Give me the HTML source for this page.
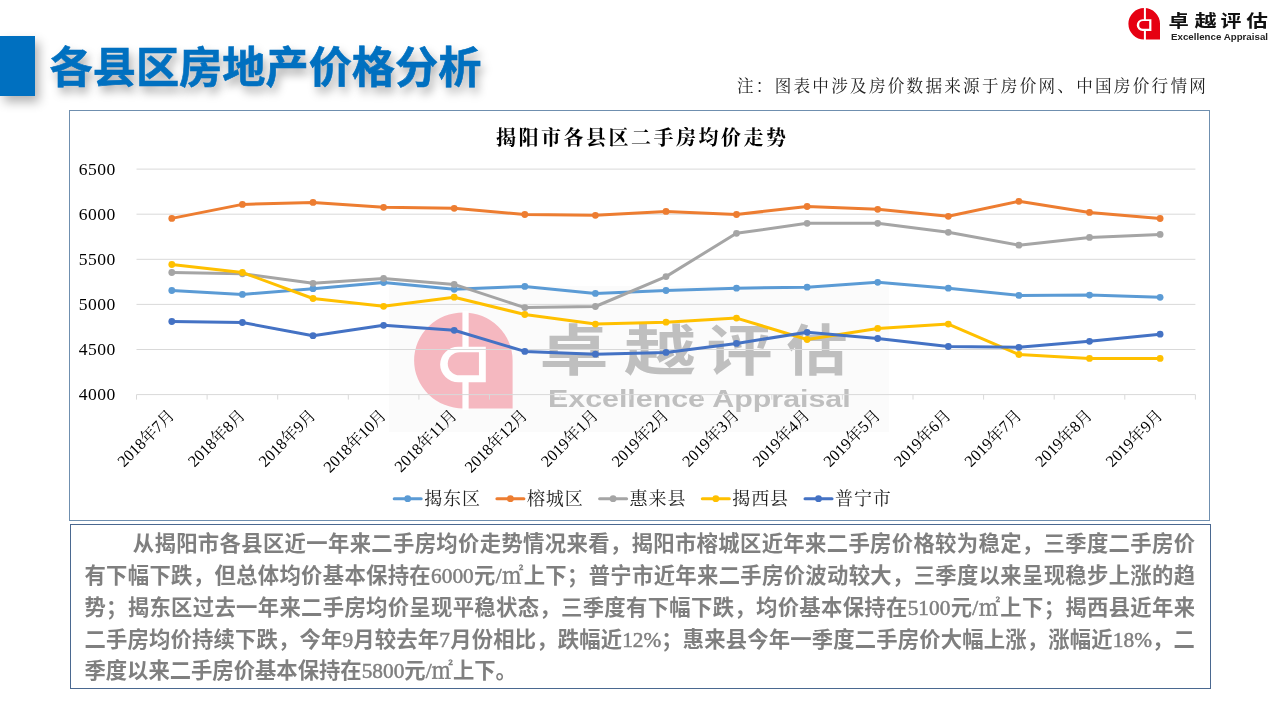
<!DOCTYPE html>
<html lang="zh-CN"><head><meta charset="utf-8">
<title>各县区房地产价格分析</title>
<style>
*{margin:0;padding:0;box-sizing:border-box}
html,body{width:1280px;height:720px;overflow:hidden;background:#fff}
body{position:relative;font-family:"Liberation Sans","Noto Sans CJK SC",sans-serif}
.bar{position:absolute;left:0;top:36px;width:35px;height:60px;background:#0070C0;box-shadow:4px 6px 10px rgba(0,0,0,.3)}
.title{position:absolute;left:49.5px;top:38px;font-family:"Liberation Sans","Noto Sans CJK SC",sans-serif;font-weight:700;font-size:43.2px;line-height:60px;color:#0070C0;text-shadow:3px 6px 10px rgba(0,0,0,.36);-webkit-text-stroke:0.6px #0070C0;white-space:nowrap;letter-spacing:0px}
.note{position:absolute;left:737px;top:75.5px;font-family:"Liberation Serif","Noto Serif CJK SC",serif;font-size:16.6px;line-height:22px;color:#222;letter-spacing:2.25px;white-space:nowrap}
.chartbox{position:absolute;left:69px;top:110px;width:1140.8px;height:411px;border:1px solid #6F8FAF;background:#fff}
.textbox{position:absolute;left:70px;top:524px;width:1141px;height:165px;border:1.6px solid #4A6890;background:#fff}
.para{position:absolute;left:84.4px;top:525.9px;width:1110.6px;font-family:"Noto Sans CJK SC",sans-serif;font-weight:700;font-size:21.33px;line-height:31.9px;color:#7F7F7F}
.para .ln{display:block;white-space:nowrap;text-align:justify;text-align-last:justify;height:31.9px}
.para .ln.first{padding-left:48.4px}
.para .ln.last{text-align-last:left}
.para .n{font-family:"Liberation Serif",serif;font-weight:400;line-height:0;-webkit-text-stroke:0.5px #7F7F7F}
.para .m{font-family:"Noto Serif CJK SC",serif;font-weight:400;line-height:0;-webkit-text-stroke:0.5px #7F7F7F}
svg.ov{position:absolute;left:0;top:0;width:1280px;height:720px;overflow:visible}
.yl{font-family:"Liberation Serif",serif;font-size:17.6px;fill:#000;text-anchor:end}
.xl{font-family:"Liberation Serif","Noto Serif CJK SC",serif;font-size:16.2px;fill:#000;text-anchor:end}
.lg{font-family:"Liberation Serif","Noto Serif CJK SC",serif;font-size:18px;fill:#222;letter-spacing:0.9px}
.ct{font-family:"Liberation Serif","Noto Serif CJK SC",serif;font-weight:700;font-size:20px;fill:#000}
.lgz{font-family:"Noto Sans CJK SC",sans-serif;font-weight:700}
.wmz{font-family:"Noto Sans CJK SC",sans-serif;font-weight:700}
.wme{font-family:"Liberation Sans",sans-serif;font-weight:700;font-size:23px}
.lge{font-family:"Liberation Sans",sans-serif;font-weight:700;font-size:8.4px}
</style></head>
<body>
<div class="bar"></div>
<div class="title">各县区房地产价格分析</div>
<div class="note">注：图表中涉及房价数据来源于房价网、中国房价行情网</div>
<div class="chartbox"></div>
<div class="textbox"></div>
<svg class="ov" width="1280" height="720" viewBox="0 0 1280 720">
<text x="495.9" y="144.5" class="ct" textLength="290" lengthAdjust="spacing">揭阳市各县区二手房均价走势</text>
<rect x="389" y="286" width="500" height="146" fill="#FBFBFB"/><g transform="translate(414.1,312.4) scale(3.117,3.04)"><path d="M15.8,0 A15.8,15.8 0 0 0 0,15.8 A15.8,15.8 0 0 0 15.8,31.6 L31.6,31.6 L31.6,15.8 A15.8,15.8 0 0 0 15.8,0Z" fill="#F5B8C0"/><rect x="15.5" y="-0.5" width="2" height="32.6" fill="#FFFFFF"/><path d="M14.2,11.3 H23 V23 H14.2 A5.85,5.85 0 0 1 14.2,11.3Z" fill="#FFFFFF"/><path d="M14.6,13.1 H20.8 V20.7 H14.6 A3.8,3.8 0 0 1 14.6,13.1Z" fill="#F5B8C0"/></g><text x="539.5" y="369.5" class="wmz" style="font-size:55px" fill="#BFBFBF" textLength="69" lengthAdjust="spacingAndGlyphs">卓</text><text x="624" y="369.5" class="wmz" style="font-size:55px" fill="#BFBFBF" textLength="72" lengthAdjust="spacingAndGlyphs">越</text><text x="706.5" y="369.5" class="wmz" style="font-size:55px" fill="#BFBFBF" textLength="66" lengthAdjust="spacingAndGlyphs">评</text><text x="786.5" y="369.5" class="wmz" style="font-size:55px" fill="#BFBFBF" textLength="61" lengthAdjust="spacingAndGlyphs">估</text><text x="548" y="406.8" class="wme" fill="#BFBFBF" textLength="302.7" lengthAdjust="spacingAndGlyphs">Excellence Appraisal</text>
<line x1="136.5" y1="169.1" x2="1195.4" y2="169.1" stroke="#D9D9D9" stroke-width="1"/>
<line x1="136.5" y1="214.2" x2="1195.4" y2="214.2" stroke="#D9D9D9" stroke-width="1"/>
<line x1="136.5" y1="259.3" x2="1195.4" y2="259.3" stroke="#D9D9D9" stroke-width="1"/>
<line x1="136.5" y1="304.4" x2="1195.4" y2="304.4" stroke="#D9D9D9" stroke-width="1"/>
<line x1="136.5" y1="349.5" x2="1195.4" y2="349.5" stroke="#D9D9D9" stroke-width="1"/>
<line x1="136.5" y1="394.6" x2="1195.4" y2="394.6" stroke="#D9D9D9" stroke-width="1"/>
<line x1="136.5" y1="394.6" x2="136.5" y2="399.6" stroke="#D9D9D9" stroke-width="1"/>
<line x1="207.1" y1="394.6" x2="207.1" y2="399.6" stroke="#D9D9D9" stroke-width="1"/>
<line x1="277.7" y1="394.6" x2="277.7" y2="399.6" stroke="#D9D9D9" stroke-width="1"/>
<line x1="348.3" y1="394.6" x2="348.3" y2="399.6" stroke="#D9D9D9" stroke-width="1"/>
<line x1="418.9" y1="394.6" x2="418.9" y2="399.6" stroke="#D9D9D9" stroke-width="1"/>
<line x1="489.5" y1="394.6" x2="489.5" y2="399.6" stroke="#D9D9D9" stroke-width="1"/>
<line x1="560.1" y1="394.6" x2="560.1" y2="399.6" stroke="#D9D9D9" stroke-width="1"/>
<line x1="630.7" y1="394.6" x2="630.7" y2="399.6" stroke="#D9D9D9" stroke-width="1"/>
<line x1="701.2" y1="394.6" x2="701.2" y2="399.6" stroke="#D9D9D9" stroke-width="1"/>
<line x1="771.8" y1="394.6" x2="771.8" y2="399.6" stroke="#D9D9D9" stroke-width="1"/>
<line x1="842.4" y1="394.6" x2="842.4" y2="399.6" stroke="#D9D9D9" stroke-width="1"/>
<line x1="913.0" y1="394.6" x2="913.0" y2="399.6" stroke="#D9D9D9" stroke-width="1"/>
<line x1="983.6" y1="394.6" x2="983.6" y2="399.6" stroke="#D9D9D9" stroke-width="1"/>
<line x1="1054.2" y1="394.6" x2="1054.2" y2="399.6" stroke="#D9D9D9" stroke-width="1"/>
<line x1="1124.8" y1="394.6" x2="1124.8" y2="399.6" stroke="#D9D9D9" stroke-width="1"/>
<line x1="1195.4" y1="394.6" x2="1195.4" y2="399.6" stroke="#D9D9D9" stroke-width="1"/>
<text x="115.3" y="174.9" class="yl" textLength="36.6" lengthAdjust="spacing">6500</text>
<text x="115.3" y="220.0" class="yl" textLength="36.6" lengthAdjust="spacing">6000</text>
<text x="115.3" y="265.1" class="yl" textLength="36.6" lengthAdjust="spacing">5500</text>
<text x="115.3" y="310.2" class="yl" textLength="36.6" lengthAdjust="spacing">5000</text>
<text x="115.3" y="355.3" class="yl" textLength="36.6" lengthAdjust="spacing">4500</text>
<text x="115.3" y="400.4" class="yl" textLength="36.6" lengthAdjust="spacing">4000</text>
<text class="xl" transform="translate(175.5,416.2) rotate(-45)">2018年7月</text>
<text class="xl" transform="translate(246.1,416.2) rotate(-45)">2018年8月</text>
<text class="xl" transform="translate(316.7,416.2) rotate(-45)">2018年9月</text>
<text class="xl" transform="translate(387.3,416.2) rotate(-45)">2018年10月</text>
<text class="xl" transform="translate(457.9,416.2) rotate(-45)">2018年11月</text>
<text class="xl" transform="translate(528.5,416.2) rotate(-45)">2018年12月</text>
<text class="xl" transform="translate(599.1,416.2) rotate(-45)">2019年1月</text>
<text class="xl" transform="translate(669.7,416.2) rotate(-45)">2019年2月</text>
<text class="xl" transform="translate(740.2,416.2) rotate(-45)">2019年3月</text>
<text class="xl" transform="translate(810.8,416.2) rotate(-45)">2019年4月</text>
<text class="xl" transform="translate(881.4,416.2) rotate(-45)">2019年5月</text>
<text class="xl" transform="translate(952.0,416.2) rotate(-45)">2019年6月</text>
<text class="xl" transform="translate(1022.6,416.2) rotate(-45)">2019年7月</text>
<text class="xl" transform="translate(1093.2,416.2) rotate(-45)">2019年8月</text>
<text class="xl" transform="translate(1163.8,416.2) rotate(-45)">2019年9月</text>
<polyline points="171.8,290.5 242.4,294.4 313.0,288.7 383.6,282.5 454.2,289.3 524.8,286.4 595.4,293.4 666.0,290.5 736.5,288.2 807.1,287.2 877.7,282.3 948.3,288.2 1018.9,295.4 1089.5,295.1 1160.1,297.3" fill="none" stroke="#5B9BD5" stroke-width="3" stroke-linejoin="round" stroke-linecap="round"/>
<circle cx="171.8" cy="290.5" r="3.4" fill="#5B9BD5"/>
<circle cx="242.4" cy="294.4" r="3.4" fill="#5B9BD5"/>
<circle cx="313.0" cy="288.7" r="3.4" fill="#5B9BD5"/>
<circle cx="383.6" cy="282.5" r="3.4" fill="#5B9BD5"/>
<circle cx="454.2" cy="289.3" r="3.4" fill="#5B9BD5"/>
<circle cx="524.8" cy="286.4" r="3.4" fill="#5B9BD5"/>
<circle cx="595.4" cy="293.4" r="3.4" fill="#5B9BD5"/>
<circle cx="666.0" cy="290.5" r="3.4" fill="#5B9BD5"/>
<circle cx="736.5" cy="288.2" r="3.4" fill="#5B9BD5"/>
<circle cx="807.1" cy="287.2" r="3.4" fill="#5B9BD5"/>
<circle cx="877.7" cy="282.3" r="3.4" fill="#5B9BD5"/>
<circle cx="948.3" cy="288.2" r="3.4" fill="#5B9BD5"/>
<circle cx="1018.9" cy="295.4" r="3.4" fill="#5B9BD5"/>
<circle cx="1089.5" cy="295.1" r="3.4" fill="#5B9BD5"/>
<circle cx="1160.1" cy="297.3" r="3.4" fill="#5B9BD5"/>
<polyline points="171.8,218.4 242.4,204.4 313.0,202.4 383.6,207.3 454.2,208.3 524.8,214.5 595.4,215.3 666.0,211.4 736.5,214.5 807.1,206.5 877.7,209.3 948.3,216.3 1018.9,201.3 1089.5,212.4 1160.1,218.5" fill="none" stroke="#ED7D31" stroke-width="3" stroke-linejoin="round" stroke-linecap="round"/>
<circle cx="171.8" cy="218.4" r="3.4" fill="#ED7D31"/>
<circle cx="242.4" cy="204.4" r="3.4" fill="#ED7D31"/>
<circle cx="313.0" cy="202.4" r="3.4" fill="#ED7D31"/>
<circle cx="383.6" cy="207.3" r="3.4" fill="#ED7D31"/>
<circle cx="454.2" cy="208.3" r="3.4" fill="#ED7D31"/>
<circle cx="524.8" cy="214.5" r="3.4" fill="#ED7D31"/>
<circle cx="595.4" cy="215.3" r="3.4" fill="#ED7D31"/>
<circle cx="666.0" cy="211.4" r="3.4" fill="#ED7D31"/>
<circle cx="736.5" cy="214.5" r="3.4" fill="#ED7D31"/>
<circle cx="807.1" cy="206.5" r="3.4" fill="#ED7D31"/>
<circle cx="877.7" cy="209.3" r="3.4" fill="#ED7D31"/>
<circle cx="948.3" cy="216.3" r="3.4" fill="#ED7D31"/>
<circle cx="1018.9" cy="201.3" r="3.4" fill="#ED7D31"/>
<circle cx="1089.5" cy="212.4" r="3.4" fill="#ED7D31"/>
<circle cx="1160.1" cy="218.5" r="3.4" fill="#ED7D31"/>
<polyline points="171.8,272.5 242.4,273.8 313.0,283.3 383.6,278.4 454.2,284.4 524.8,307.6 595.4,306.5 666.0,276.6 736.5,233.3 807.1,223.3 877.7,223.3 948.3,232.3 1018.9,245.2 1089.5,237.4 1160.1,234.4" fill="none" stroke="#A5A5A5" stroke-width="3" stroke-linejoin="round" stroke-linecap="round"/>
<circle cx="171.8" cy="272.5" r="3.4" fill="#A5A5A5"/>
<circle cx="242.4" cy="273.8" r="3.4" fill="#A5A5A5"/>
<circle cx="313.0" cy="283.3" r="3.4" fill="#A5A5A5"/>
<circle cx="383.6" cy="278.4" r="3.4" fill="#A5A5A5"/>
<circle cx="454.2" cy="284.4" r="3.4" fill="#A5A5A5"/>
<circle cx="524.8" cy="307.6" r="3.4" fill="#A5A5A5"/>
<circle cx="595.4" cy="306.5" r="3.4" fill="#A5A5A5"/>
<circle cx="666.0" cy="276.6" r="3.4" fill="#A5A5A5"/>
<circle cx="736.5" cy="233.3" r="3.4" fill="#A5A5A5"/>
<circle cx="807.1" cy="223.3" r="3.4" fill="#A5A5A5"/>
<circle cx="877.7" cy="223.3" r="3.4" fill="#A5A5A5"/>
<circle cx="948.3" cy="232.3" r="3.4" fill="#A5A5A5"/>
<circle cx="1018.9" cy="245.2" r="3.4" fill="#A5A5A5"/>
<circle cx="1089.5" cy="237.4" r="3.4" fill="#A5A5A5"/>
<circle cx="1160.1" cy="234.4" r="3.4" fill="#A5A5A5"/>
<polyline points="171.8,264.5 242.4,272.5 313.0,298.5 383.6,306.3 454.2,297.2 524.8,314.5 595.4,324.1 666.0,322.2 736.5,318.1 807.1,339.5 877.7,328.4 948.3,324.1 1018.9,354.5 1089.5,358.4 1160.1,358.4" fill="none" stroke="#FFC000" stroke-width="3" stroke-linejoin="round" stroke-linecap="round"/>
<circle cx="171.8" cy="264.5" r="3.4" fill="#FFC000"/>
<circle cx="242.4" cy="272.5" r="3.4" fill="#FFC000"/>
<circle cx="313.0" cy="298.5" r="3.4" fill="#FFC000"/>
<circle cx="383.6" cy="306.3" r="3.4" fill="#FFC000"/>
<circle cx="454.2" cy="297.2" r="3.4" fill="#FFC000"/>
<circle cx="524.8" cy="314.5" r="3.4" fill="#FFC000"/>
<circle cx="595.4" cy="324.1" r="3.4" fill="#FFC000"/>
<circle cx="666.0" cy="322.2" r="3.4" fill="#FFC000"/>
<circle cx="736.5" cy="318.1" r="3.4" fill="#FFC000"/>
<circle cx="807.1" cy="339.5" r="3.4" fill="#FFC000"/>
<circle cx="877.7" cy="328.4" r="3.4" fill="#FFC000"/>
<circle cx="948.3" cy="324.1" r="3.4" fill="#FFC000"/>
<circle cx="1018.9" cy="354.5" r="3.4" fill="#FFC000"/>
<circle cx="1089.5" cy="358.4" r="3.4" fill="#FFC000"/>
<circle cx="1160.1" cy="358.4" r="3.4" fill="#FFC000"/>
<polyline points="171.8,321.5 242.4,322.5 313.0,335.7 383.6,325.3 454.2,330.3 524.8,351.4 595.4,354.2 666.0,352.4 736.5,343.4 807.1,332.3 877.7,338.5 948.3,346.5 1018.9,347.3 1089.5,341.3 1160.1,334.2" fill="none" stroke="#4472C4" stroke-width="3" stroke-linejoin="round" stroke-linecap="round"/>
<circle cx="171.8" cy="321.5" r="3.4" fill="#4472C4"/>
<circle cx="242.4" cy="322.5" r="3.4" fill="#4472C4"/>
<circle cx="313.0" cy="335.7" r="3.4" fill="#4472C4"/>
<circle cx="383.6" cy="325.3" r="3.4" fill="#4472C4"/>
<circle cx="454.2" cy="330.3" r="3.4" fill="#4472C4"/>
<circle cx="524.8" cy="351.4" r="3.4" fill="#4472C4"/>
<circle cx="595.4" cy="354.2" r="3.4" fill="#4472C4"/>
<circle cx="666.0" cy="352.4" r="3.4" fill="#4472C4"/>
<circle cx="736.5" cy="343.4" r="3.4" fill="#4472C4"/>
<circle cx="807.1" cy="332.3" r="3.4" fill="#4472C4"/>
<circle cx="877.7" cy="338.5" r="3.4" fill="#4472C4"/>
<circle cx="948.3" cy="346.5" r="3.4" fill="#4472C4"/>
<circle cx="1018.9" cy="347.3" r="3.4" fill="#4472C4"/>
<circle cx="1089.5" cy="341.3" r="3.4" fill="#4472C4"/>
<circle cx="1160.1" cy="334.2" r="3.4" fill="#4472C4"/>
<line x1="394.2" y1="498.7" x2="421.2" y2="498.7" stroke="#5B9BD5" stroke-width="3" stroke-linecap="round"/>
<circle cx="407.7" cy="498.7" r="3.4" fill="#5B9BD5"/>
<text x="424.2" y="505.2" class="lg">揭东区</text>
<line x1="496.9" y1="498.7" x2="523.9" y2="498.7" stroke="#ED7D31" stroke-width="3" stroke-linecap="round"/>
<circle cx="510.4" cy="498.7" r="3.4" fill="#ED7D31"/>
<text x="526.9" y="505.2" class="lg">榕城区</text>
<line x1="599.6" y1="498.7" x2="626.6" y2="498.7" stroke="#A5A5A5" stroke-width="3" stroke-linecap="round"/>
<circle cx="613.1" cy="498.7" r="3.4" fill="#A5A5A5"/>
<text x="629.6" y="505.2" class="lg">惠来县</text>
<line x1="702.3" y1="498.7" x2="729.3" y2="498.7" stroke="#FFC000" stroke-width="3" stroke-linecap="round"/>
<circle cx="715.8" cy="498.7" r="3.4" fill="#FFC000"/>
<text x="732.3" y="505.2" class="lg">揭西县</text>
<line x1="805.0" y1="498.7" x2="832.0" y2="498.7" stroke="#4472C4" stroke-width="3" stroke-linecap="round"/>
<circle cx="818.5" cy="498.7" r="3.4" fill="#4472C4"/>
<text x="835.0" y="505.2" class="lg">普宁市</text>
<g transform="translate(1128.4,8)"><path d="M15.8,0 A15.8,15.8 0 0 0 0,15.8 A15.8,15.8 0 0 0 15.8,31.6 L31.6,31.6 L31.6,15.8 A15.8,15.8 0 0 0 15.8,0Z" fill="#E60012"/><rect x="15.5" y="-0.5" width="2" height="32.6" fill="#FFFFFF"/><path d="M14.2,11.3 H23 V23 H14.2 A5.85,5.85 0 0 1 14.2,11.3Z" fill="#FFFFFF"/><path d="M14.6,13.1 H20.8 V20.7 H14.6 A3.8,3.8 0 0 1 14.6,13.1Z" fill="#E60012"/></g><text x="1168.6" y="27.0" class="lgz" style="font-size:17.5px" fill="#111" textLength="20.3" lengthAdjust="spacingAndGlyphs">卓</text><text x="1194.5" y="27.0" class="lgz" style="font-size:17.5px" fill="#111" textLength="22.2" lengthAdjust="spacingAndGlyphs">越</text><text x="1220.4" y="27.0" class="lgz" style="font-size:17.5px" fill="#111" textLength="20.9" lengthAdjust="spacingAndGlyphs">评</text><text x="1246.3" y="27.0" class="lgz" style="font-size:17.5px" fill="#111" textLength="21.6" lengthAdjust="spacingAndGlyphs">估</text><text x="1171" y="39.6" class="lge" fill="#222" textLength="97" lengthAdjust="spacingAndGlyphs">Excellence Appraisal</text>
</svg>
<div class="para">
<span class="ln first">从揭阳市各县区近一年来二手房均价走势情况来看，揭阳市榕城区近年来二手房价格较为稳定，三季度二手房价</span>
<span class="ln">有下幅下跌，但总体均价基本保持在<span class="n">6000</span>元<span class="n">/</span><span class="m">㎡</span>上下；普宁市近年来二手房价波动较大，三季度以来呈现稳步上涨的趋</span>
<span class="ln">势；揭东区过去一年来二手房均价呈现平稳状态，三季度有下幅下跌，均价基本保持在<span class="n">5100</span>元<span class="n">/</span><span class="m">㎡</span>上下；揭西县近年来</span>
<span class="ln">二手房均价持续下跌，今年<span class="n">9</span>月较去年<span class="n">7</span>月份相比，跌幅近<span class="n">12%</span>；惠来县今年一季度二手房价大幅上涨，涨幅近<span class="n">18%</span>，二</span>
<span class="ln last">季度以来二手房价基本保持在<span class="n">5800</span>元<span class="n">/</span><span class="m">㎡</span>上下。</span>
</div>
</body></html>
